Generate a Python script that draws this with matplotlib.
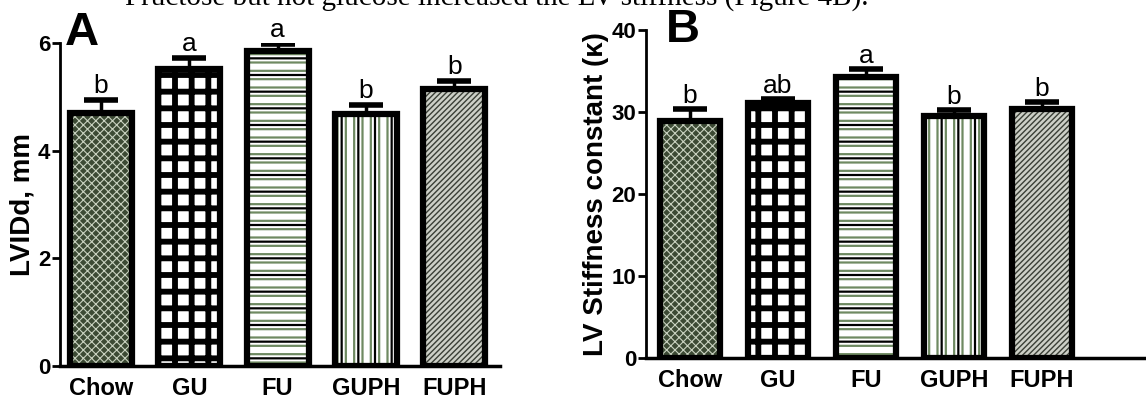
import matplotlib.pyplot as plt
import numpy as np

plt.rcParams['font.family'] = ['Liberation Sans', 'DejaVu Sans']

groups = ["Chow", "GU", "FU", "GUPH", "FUPH"]

# panel A: LVIDd (mm)
lvidd = [4.70, 5.52, 5.85, 4.67, 5.14]
lvidd_err = [0.24, 0.20, 0.13, 0.17, 0.15]
lvidd_sig = ["b", "a", "a", "b", "b"]

# panel B: LV stiffness constant
stiff = [28.9, 31.1, 34.2, 29.5, 30.3]
stiff_err = [1.5, 0.5, 1.0, 0.7, 0.9]
stiff_sig = ["b", "ab", "a", "b", "b"]

# fill styles per group: (facecolor, [(hatch, hatchcolor, hatch lw), ...])
fills = [
    ("#3c4a34", [("xxxx", "#c9d2c0", 0.8)]),
    ("white", [("+", "black", 4.2)]),
    ("white", [("--", "#6f8a62", 1.6), ("-", "black", 1.6)]),
    ("white", [("||", "#6f8a62", 1.6), ("|", "black", 1.6)]),
    ("#cdd0c7", [("//////", "#3a3f36", 1.0)]),
]


def draw_panel(ax, vals, errs, sigs, ymax, yticks, ylabel, letter, letter_xy, xlim, width, sig_off):
    x = np.arange(len(groups))
    for i, (fc, layers) in enumerate(fills):
        ax.bar(x[i], vals[i], width, color=fc, linewidth=0, zorder=1)
        for h, hc, hlw in layers:
            with plt.rc_context({'hatch.linewidth': hlw}):
                ax.bar(x[i], vals[i], width, facecolor='none', edgecolor=hc,
                       hatch=h, linewidth=0, zorder=2)
    ax.bar(x, vals, width, facecolor='none', edgecolor='black', linewidth=4.5, zorder=3)
    ax.errorbar(x, vals, yerr=[np.zeros(len(vals)), errs], fmt='none', ecolor='black',
                elinewidth=2.5, capsize=12, capthick=4, zorder=4)
    for i in range(len(vals)):
        ax.text(x[i], vals[i] + errs[i] + sig_off, sigs[i], ha='center', va='bottom',
                fontsize=19, zorder=5)
    ax.set_xlim(*xlim)
    ax.set_ylim(0, ymax)
    ax.set_yticks(yticks)
    ax.set_yticklabels([str(t) for t in yticks], fontsize=16, fontweight='bold')
    ax.set_xticks(x)
    ax.set_xticklabels(groups, fontsize=17, fontweight='bold')
    ax.tick_params(axis='x', length=0, pad=8)
    ax.tick_params(axis='y', length=6, width=2, pad=1)
    ax.spines['top'].set_visible(False)
    ax.spines['right'].set_visible(False)
    ax.spines['left'].set_linewidth(2)
    ax.spines['bottom'].set_linewidth(2.5)
    ax.set_ylabel(ylabel, fontsize=20, fontweight='bold', labelpad=2)
    ax.text(letter_xy[0], letter_xy[1], letter, transform=ax.transAxes, fontsize=34,
            fontweight='bold', ha='left', va='center')


fig = plt.figure(figsize=(11.46, 4.04), dpi=100)
axA = fig.add_axes([0.0524, 0.094, 0.384, 0.800])
axB = fig.add_axes([0.5637, 0.114, 0.436, 0.812])

draw_panel(axA, lvidd, lvidd_err, lvidd_sig, 6, [0, 2, 4, 6], "LVIDd, mm", "A", (0.01, 1.03),
           (-0.464, 4.52), 0.70, 0.04)
draw_panel(axB, stiff, stiff_err, stiff_sig, 40, [0, 10, 20, 30, 40],
           "LV Stiffness constant (\u03ba)", "B", (0.04, 1.0), (-0.5, 5.18), 0.69, 0.1)

fig.text(0.109, 1 - 6 / 404, "Fructose but not glucose increased the LV stiffness (Figure 4B).",
         family='Liberation Serif', fontsize=21, va='baseline', ha='left')

fig.savefig("out.png", dpi=100)
